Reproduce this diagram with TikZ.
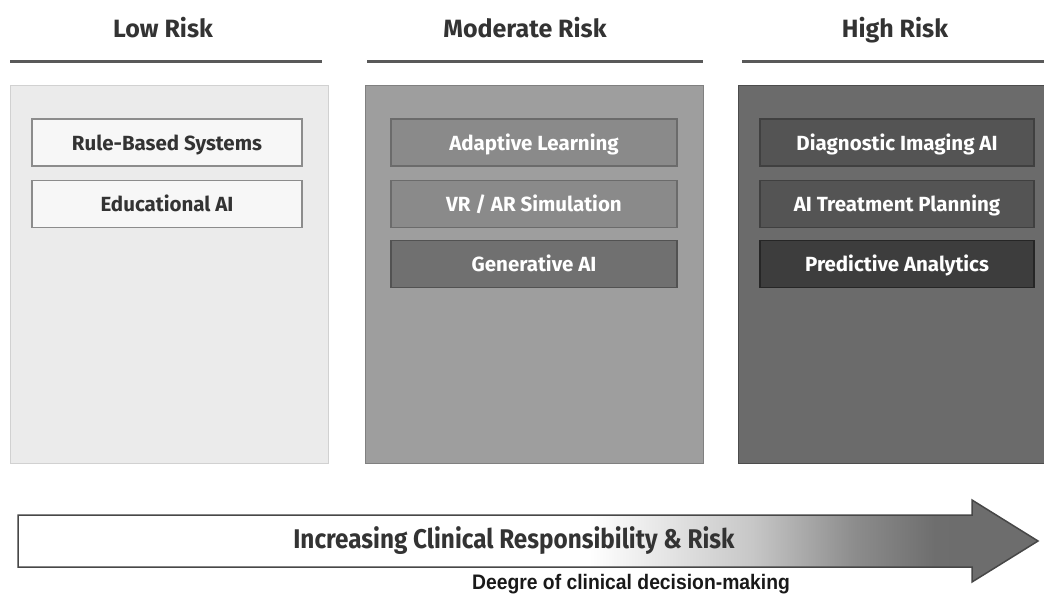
\documentclass[tikz,border=0pt]{standalone}
\usepackage{fontspec}
\setmainfont{Fira Sans}
\newfontfamily\narrowfont[FakeStretch=0.9]{Fira Sans}
\newfontfamily\captionfont[FakeStretch=0.92]{Liberation Sans}
\usepackage{tikz}
\pgfdeclarehorizontalshading{riskfade}{100bp}{color(0bp)=(white); color(53bp)=(white); color(61bp)=(black!22); color(66bp)=(black!45); color(70bp)=(black!57); color(100bp)=(black!60)}
\tikzset{
	title/.style={font=\fontsize{25}{28}\selectfont\bfseries, text=black!80, text height=19, text depth=0},
	rule/.style={line width=3, color=black!65},
	boxtext/.style={line width=1.5, minimum height=47, text height=15, text depth=0, font=\fontsize{20.5}{22}\selectfont\bfseries},
	lowbox/.style={boxtext, draw=black!45, fill=black!3, minimum width=270, text=black!80},
	modbox/.style={boxtext, draw=black!58, fill=black!46, minimum width=286, text=white},
	highbox/.style={boxtext, draw=black!75, fill=black!67, minimum width=274, text=white},
}

\begin{document}
\begin{tikzpicture}[x=1pt,y=-1pt]
			%%%%% START %%%%%
			\useasboundingbox (0,0) rectangle (1044,599);
			
			\node[title] (low) at (163,28.5) {Low Risk};
			\node[title] (moderate) at (525,28.5) {Moderate Risk};
			\node[title] (high) at (895,28.5) {High Risk};
			
			\draw[rule] (10,62) -- (322,62);
			\draw[rule] (367,62) -- (703,62);
			\draw[rule] (742,62) -- (1044,62);
			
			\draw[draw=black!18, fill=black!8] (10,85) rectangle (328,463);
			\draw[draw=black!50, fill=black!38] (365,85) rectangle (703,463);
			\draw[draw=black!70, fill=black!58] (738,85) rectangle (1044,463);
			
			\node[lowbox] (rulebased) at (167,142.5) {Rule-Based Systems};
			\node[lowbox] (educational) at (167,204) {Educational AI};
			
			\node[modbox] (adaptive) at (534,142.5) {Adaptive Learning};
			\node[modbox] (vrar) at (534,204) {VR / AR Simulation};
			\node[modbox, fill=black!56, draw=black!68] (generative) at (534,264) {Generative AI};
			
			\node[highbox] (imaging) at (897,142.5) {Diagnostic Imaging AI};
			\node[highbox] (treatment) at (897,204) {AI Treatment Planning};
			\node[highbox, fill=black!76, draw=black!85] (predictive) at (897,264) {Predictive Analytics};
			
			\shadedraw[shading=riskfade, draw=black!72, line width=1.5] (18,515) -- (972,515) -- (972,500) -- (1038,541) -- (972,582) -- (972,567) -- (18,567) -- cycle;
			\node[font=\narrowfont\fontsize{27}{29}\selectfont\bfseries, text=black!80] (trend) at (514,541) {Increasing Clinical Responsibility \& Risk};
			\node[font=\captionfont\fontsize{21}{23}\selectfont\bfseries, text=black!90] (degree) at (631,584) {Deegre of clinical decision-making};
			
			%%%%% END %%%%%
\end{tikzpicture}
\end{document}
